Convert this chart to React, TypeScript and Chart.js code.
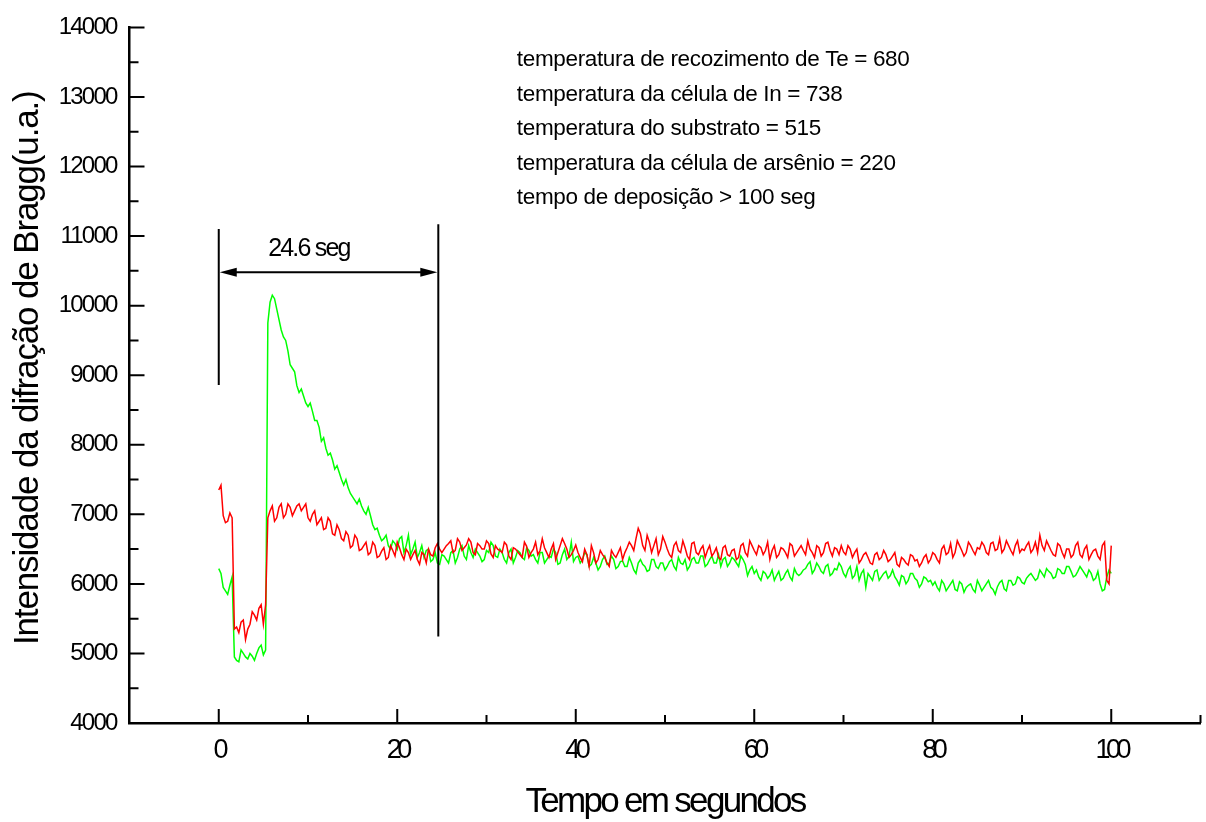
import React, { useEffect, useRef } from 'react';
import { Chart, registerables } from 'chart.js';

Chart.register(...registerables);

// ---- data ----
// main samples at t = 0, 0.5, ... 100 s ; mid samples at t = 0.25, 0.75, ... 99.75 s
const TIME_STEP = 0.5;

const redValues = [
  7350, 6980, 6900, 6950, 5380, 5450, 5200, 5420, 5550, 5650,
  5420, 6950, 7120, 6950, 7150, 7000, 7100, 7050, 7150, 7100,
  6950, 7000, 6850, 6950, 6800, 6900, 6700, 6780, 6620, 6700,
  6550, 6650, 6500, 6600, 6450, 6550, 6400, 6520, 6380, 6480,
  6600, 6420, 6500, 6350, 6480, 6280, 6420, 6500, 6400, 6580,
  6450,
  6550, 6620, 6480, 6600, 6520, 6650, 6450, 6580, 6500, 6620,
  6430, 6550, 6480, 6600, 6400, 6520, 6460, 6380, 6540, 6450,
  6600, 6480, 6520, 6380, 6580, 6450, 6650, 6500, 6420, 6560,
  6380, 6500, 6250, 6450, 6350, 6420, 6300, 6480, 6380, 6520,
  6450, 6600, 6480, 6800, 6550, 6700, 6450, 6650, 6500, 6600,
  6420, 6550, 6480, 6620, 6400, 6580, 6450, 6500, 6380, 6550,
  6450, 6380, 6520, 6420, 6480, 6350, 6550, 6450, 6620, 6480,
  6550, 6420, 6600, 6480, 6380, 6520, 6450, 6580, 6400, 6500,
  6480, 6620, 6450, 6550, 6400, 6580, 6480, 6520, 6420, 6460,
  6550, 6380, 6500, 6350, 6450, 6300, 6420, 6350, 6480, 6320,
  6400, 6280, 6380, 6300, 6420, 6330, 6250, 6380, 6300, 6450,
  6350, 6500, 6420, 6580, 6450, 6550, 6400, 6600, 6480, 6520,
  6600, 6450, 6580, 6480, 6650, 6500, 6550, 6420, 6620, 6500,
  6550, 6450, 6600, 6700, 6480, 6550, 6420, 6580, 6450, 6500,
  6380, 6550, 6420, 6500, 6350, 6480, 6400, 6550, 6050, 6550,
];

const redValuesMid = [
  7420, 6880, 7020, 5350, 5300, 5480, 5350, 5600, 5480, 5700,
  5700, 7050, 6900, 7100, 6950, 7150, 6980, 7120, 7050, 7150,
  6900, 7050, 6900, 6780, 6950, 6720, 6850, 6650, 6750, 6520,
  6700, 6480, 6550, 6420, 6600, 6380, 6470, 6350, 6550, 6400,
  6520, 6350, 6450, 6420, 6350, 6450, 6300, 6420, 6520, 6500,
  6500, 6580, 6450, 6650, 6480, 6560, 6600, 6420, 6550, 6500,
  6580, 6380, 6500, 6450, 6560, 6350, 6500, 6420, 6600, 6380,
  6500, 6420, 6650, 6450, 6500, 6350, 6550, 6580, 6380, 6480,
  6450, 6320, 6420, 6550, 6300, 6480, 6380, 6250, 6420, 6450,
  6350, 6520, 6550, 6650, 6720, 6480, 6600, 6550, 6420, 6680,
  6500, 6380, 6600, 6450, 6520, 6350, 6600, 6420, 6550, 6480,
  6400, 6520, 6350, 6550, 6400, 6500, 6380, 6580, 6400, 6550,
  6420, 6520, 6480, 6350, 6550, 6420, 6500, 6380, 6550, 6450,
  6550, 6420, 6500, 6380, 6520, 6450, 6600, 6400, 6500, 6550,
  6420, 6500, 6450, 6300, 6420, 6380, 6280, 6450, 6380, 6420,
  6350, 6450, 6250, 6350, 6270, 6400, 6350, 6300, 6420, 6350,
  6420, 6300, 6550, 6450, 6380, 6620, 6480, 6450, 6550, 6420,
  6500, 6550, 6420, 6600, 6500, 6450, 6620, 6480, 6550, 6450,
  6480, 6600, 6500, 6450, 6550, 6620, 6480, 6400, 6550, 6380,
  6500, 6420, 6600, 6380, 6550, 6420, 6500, 6350, 6600, 6000,
];

const greenValues = [
  6220, 5950, 5850, 6100, 4900, 5050, 4950, 5000, 4900, 5080,
  4980, 9750, 10150, 9950, 9650, 9500, 9150, 9050, 8750, 8700,
  8550, 8480, 8350, 8050, 7950, 7880, 7650, 7600, 7420, 7380,
  7250, 7150, 7120, 7000, 6980, 6780, 6700, 6650, 6550, 6620,
  6500, 6680, 6550, 6420, 6600, 6450, 6380, 6500, 6350, 6300,
  6420,
  6350, 6450, 6300, 6500, 6400, 6550, 6380, 6450, 6320, 6480,
  6600, 6400, 6500, 6350, 6450, 6300, 6480, 6380, 6520, 6400,
  6350, 6450, 6300, 6400, 6500, 6280, 6420, 6350, 6600, 6380,
  6300, 6450, 6250, 6380, 6200, 6350, 6280, 6400, 6220, 6320,
  6250, 6380, 6200, 6300, 6280, 6180, 6350, 6250, 6300, 6200,
  6320, 6250, 6380, 6280, 6200, 6350, 6300, 6400, 6250, 6350,
  6300, 6420, 6350, 6250, 6380, 6300, 6400, 6280, 6200, 6150,
  6100, 6180, 6080, 6200, 6120, 6050, 6150, 6100, 6220, 6120,
  6200, 6280, 6150, 6300, 6180, 6250, 6120, 6220, 6300, 6150,
  6200, 6080, 6250, 6150, 5950, 6100, 6180, 6050, 6150, 6080,
  6200, 6050, 6120, 6000, 6150, 6080, 5950, 6100, 6030, 5980,
  5950, 6050, 5900, 6000, 5920, 6030, 5880, 5980, 5920, 6050,
  5900, 6000, 5950, 5850, 6020, 5930, 6050, 5980, 6100, 6020,
  6080, 6150, 6050, 6200, 6100, 6180, 6080, 6220, 6150, 6250,
  6180, 6120, 6250, 6150, 6200, 6050, 6180, 5900, 6100, 6150,
];

const greenValuesMid = [
  6150, 5900, 5980, 4950, 4880, 5000, 4920, 4960, 5000, 5120,
  5050, 10050, 10100, 9800, 9550, 9350, 9100, 8850, 8800, 8600,
  8600, 8350, 8250, 8100, 7850, 7780, 7700, 7500, 7500, 7300,
  7200, 7220, 7050, 7100, 6850, 6800, 6620, 6700, 6500, 6580,
  6650, 6450, 6700, 6500, 6380, 6550, 6480, 6320, 6450, 6280,
  6400, 6300, 6480, 6380, 6550, 6350, 6450, 6500, 6400, 6350,
  6450, 6550, 6380, 6450, 6300, 6500, 6380, 6450, 6350, 6480,
  6420, 6300, 6450, 6350, 6380, 6450, 6300, 6500, 6400, 6320,
  6400, 6350, 6420, 6280, 6300, 6250, 6400, 6300, 6350, 6250,
  6330, 6250, 6300, 6150, 6350, 6250, 6200, 6350, 6220, 6300,
  6250, 6350, 6200, 6300, 6350, 6250, 6380, 6300, 6400, 6280,
  6400, 6300, 6250, 6380, 6300, 6350, 6250, 6350, 6120, 6250,
  6200, 6050, 6150, 6120, 6050, 6180, 6080, 6200, 6050, 6150,
  6150, 6220, 6320, 6200, 6250, 6150, 6280, 6150, 6200, 6250,
  6100, 6250, 6120, 6050, 6200, 6150, 6050, 6200, 6100, 6180,
  6120, 6100, 5980, 6100, 6050, 6150, 6050, 6000, 6080, 6050,
  6030, 5900, 6000, 5950, 6050, 5900, 6000, 5950, 6000, 5880,
  5980, 5950, 6050, 5920, 5960, 6050, 5900, 6050, 6000, 6080,
  6000, 6120, 6100, 6080, 6150, 6220, 6150, 6100, 6200, 6150,
  6250, 6100, 6180, 6200, 6100, 6150, 6080, 6000, 5920, 6200,
];

const xTickLabels = [0, 20, 40, 60, 80, 100];
const xMinorTicks = [10, 30, 50, 70, 90, 110];
const yTickLabels = [4000, 5000, 6000, 7000, 8000, 9000, 10000, 11000, 12000, 13000, 14000];
const yMinorTicks = [4500, 5500, 6500, 7500, 8500, 9500, 10500, 11500, 12500, 13500];

const xTitle = 'Tempo em segundos';
const yTitle = 'Intensidade da difração de Bragg(u.a.)';

const infoLines = [
  'temperatura de recozimento de Te = 680',
  'temperatura da célula de In = 738',
  'temperatura do substrato = 515',
  'temperatura da célula de arsênio = 220',
  'tempo de deposição > 100 seg',
];

// annotation (data units)
const markStart = 0;
const markEnd = 24.6;
const markLabel = '24.6 seg';
const markStartSpan = [8860, 11100];
const markEndSpan = [5245, 11170];
const arrowLevel = 10480;
const markLabelPos = { x: 10.1, y: 10720 };
const infoPos = { x: 33.4, y: 13440 };

const FONT = "'Liberation Sans', Arial, sans-serif";

function buildSeries(main: number[], mid: number[]) {
  const pts: { x: number; y: number }[] = [];
  main.forEach((v, i) => {
    pts.push({ x: i * TIME_STEP, y: v });
    if (i < mid.length) pts.push({ x: i * TIME_STEP + TIME_STEP / 2, y: mid[i] });
  });
  return pts;
}

const overlayPlugin = {
  id: 'overlay',
  beforeDraw(chart: any) {
    const ctx = chart.ctx;
    ctx.save();
    ctx.fillStyle = '#ffffff';
    ctx.fillRect(0, 0, chart.width, chart.height);
    ctx.restore();
    // y tick labels (drawn before datasets)
    ctx.letterSpacing = '-1.8px';
  },
  afterDatasetsDraw(chart: any) {
    // x tick labels (ticks.z = 1) are drawn after datasets
    chart.ctx.letterSpacing = '-4.5px';
  },
  afterDraw(chart: any) {
    const ctx = chart.ctx;
    const xs = chart.scales.x;
    const ys = chart.scales.y;
    const area = chart.chartArea;
    ctx.save();
    ctx.letterSpacing = '0px';
    ctx.strokeStyle = '#000';
    ctx.fillStyle = '#000';
    ctx.lineWidth = 2;
    ctx.lineCap = 'butt';

    // inward tick marks
    ctx.beginPath();
    yTickLabels.forEach((v) => {
      const p = ys.getPixelForValue(v);
      ctx.moveTo(area.left, p);
      ctx.lineTo(area.left + 15, p);
    });
    yMinorTicks.forEach((v) => {
      const p = ys.getPixelForValue(v);
      ctx.moveTo(area.left, p);
      ctx.lineTo(area.left + 9, p);
    });
    xTickLabels.forEach((v) => {
      const p = xs.getPixelForValue(v);
      ctx.moveTo(p, area.bottom);
      ctx.lineTo(p, area.bottom - 14);
    });
    xMinorTicks.forEach((v) => {
      const p = xs.getPixelForValue(v);
      ctx.moveTo(p, area.bottom);
      ctx.lineTo(p, area.bottom - 8);
    });
    ctx.stroke();

    // annotation lines
    const x0 = xs.getPixelForValue(markStart);
    const x1 = xs.getPixelForValue(markEnd);
    ctx.beginPath();
    ctx.moveTo(x0, ys.getPixelForValue(markStartSpan[0]));
    ctx.lineTo(x0, ys.getPixelForValue(markStartSpan[1]));
    ctx.moveTo(x1, ys.getPixelForValue(markEndSpan[0]));
    ctx.lineTo(x1, ys.getPixelForValue(markEndSpan[1]));
    const ay = ys.getPixelForValue(arrowLevel);
    ctx.moveTo(x0 + 10, ay);
    ctx.lineTo(x1 - 10, ay);
    ctx.stroke();
    // arrow heads
    const headL = 17;
    const headW = 4.5;
    ctx.beginPath();
    ctx.moveTo(x0 + 1, ay);
    ctx.lineTo(x0 + 1 + headL, ay - headW);
    ctx.lineTo(x0 + 1 + headL, ay + headW);
    ctx.closePath();
    ctx.moveTo(x1 - 1, ay);
    ctx.lineTo(x1 - 1 - headL, ay - headW);
    ctx.lineTo(x1 - 1 - headL, ay + headW);
    ctx.closePath();
    ctx.fill();

    // label of interval
    ctx.font = `25px ${FONT}`;
    ctx.letterSpacing = '-1.8px';
    ctx.textAlign = 'center';
    ctx.textBaseline = 'alphabetic';
    ctx.fillText(markLabel, xs.getPixelForValue(markLabelPos.x), ys.getPixelForValue(markLabelPos.y));

    // info block
    ctx.font = `22.5px ${FONT}`;
    ctx.letterSpacing = '-0.35px';
    ctx.textAlign = 'left';
    const ix = xs.getPixelForValue(infoPos.x);
    const iy = ys.getPixelForValue(infoPos.y);
    infoLines.forEach((line, i) => {
      ctx.fillText(line, ix, iy + i * 34.5);
    });

    // axis titles
    ctx.font = `35px ${FONT}`;
    ctx.letterSpacing = '-2.7px';
    ctx.textAlign = 'center';
    ctx.textBaseline = 'alphabetic';
    ctx.fillText(xTitle, (area.left + area.right) / 2, 812);

    ctx.save();
    ctx.translate(28, (area.top + area.bottom) / 2 - 7);
    ctx.rotate(-Math.PI / 2);
    ctx.letterSpacing = '-1.15px';
    ctx.textBaseline = 'middle';
    ctx.fillText(yTitle, 0, 0);
    ctx.restore();

    ctx.restore();
  },
};

export default function App() {
  const canvasRef = useRef<HTMLCanvasElement>(null);

  useEffect(() => {
    const canvas = canvasRef.current;
    if (!canvas) return;
    const chart = new Chart(canvas, {
      type: 'line',
      data: {
        datasets: [
          {
            data: buildSeries(redValues, redValuesMid),
            borderColor: '#ff0000',
            borderWidth: 1.5,
            pointRadius: 0,
            tension: 0,
            fill: false,
          },
          {
            data: buildSeries(greenValues, greenValuesMid),
            borderColor: '#00ff00',
            borderWidth: 1.5,
            pointRadius: 0,
            tension: 0,
            fill: false,
          },
        ],
      },
      options: {
        animation: false,
        responsive: false,
        maintainAspectRatio: false,
        events: [],
        parsing: false,
        layout: { padding: { top: 22.5, right: 5.5, left: 0, bottom: 0 } },
        plugins: {
          legend: { display: false },
          tooltip: { enabled: false },
          title: { display: false },
        },
        scales: {
          x: {
            type: 'linear',
            min: -10,
            max: 110,
            grid: { display: false, drawTicks: false },
            border: { display: true, color: '#000', width: 2.5, z: 1 },
            ticks: {
              z: 1,
              color: '#000',
              font: { family: FONT, size: 27 },
              padding: 11,
              maxRotation: 0,
              autoSkip: false,
              callback: (v: any) => String(v),
            },
            afterBuildTicks: (s: any) => {
              s.ticks = xTickLabels.map((v) => ({ value: v }));
            },
            afterFit: (s: any) => {
              s.height = 99;
            },
          },
          y: {
            type: 'linear',
            min: 4000,
            max: 14000,
            grid: { display: false, drawTicks: false },
            border: { display: true, color: '#000', width: 2.5 },
            ticks: {
              color: '#000',
              font: { family: FONT, size: 24 },
              padding: 13,
              autoSkip: false,
              callback: (v: any) => String(v),
            },
            afterBuildTicks: (s: any) => {
              s.ticks = yTickLabels.map((v) => ({ value: v }));
            },
            afterFit: (s: any) => {
              s.width = 129.5;
            },
          },
        },
      },
      plugins: [overlayPlugin],
    } as any);
    return () => chart.destroy();
  }, []);

  return (
    <div style={{ position: 'fixed', left: 0, top: 0, width: 1206, height: 822, background: '#fff' }}>
      <canvas ref={canvasRef} width={1206} height={822} style={{ display: 'block', width: 1206, height: 822 }} />
    </div>
  );
}
